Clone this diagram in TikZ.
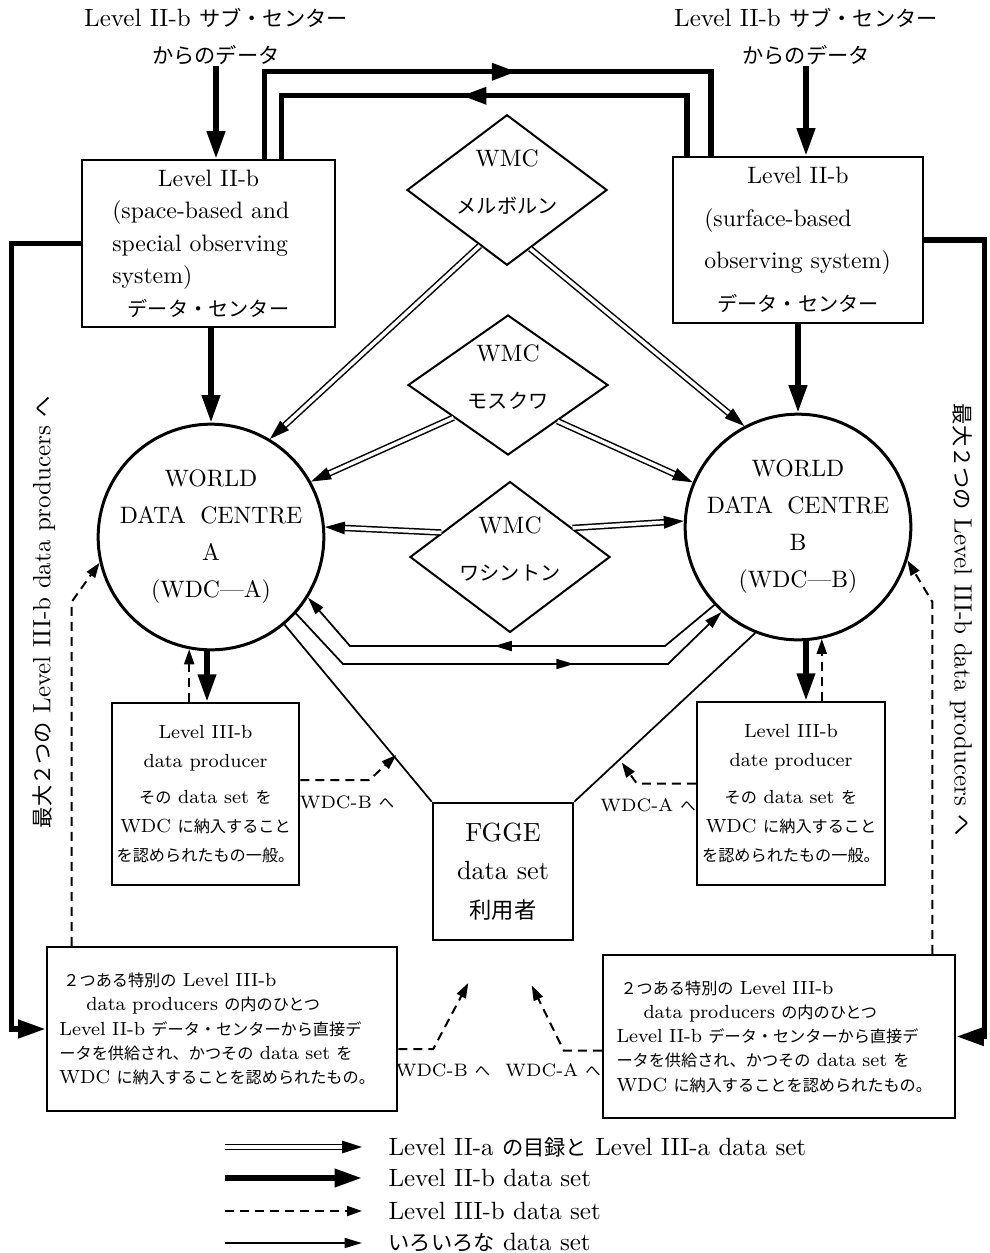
\documentclass[tikz,border=0pt]{standalone}
\usepackage{fontspec}
\usepackage{tikz}
\usetikzlibrary{positioning, arrows.meta, shapes.geometric, calc, decorations.markings}
\newfontfamily\jp[Scale=0.85]{Noto Sans CJK JP}

\begin{document}
\begin{tikzpicture}[
  x=0.4pt, y=-0.4pt,
  box/.style={draw, line width=1pt, inner sep=0pt},
  centre/.style={circle, draw, line width=1.2pt, minimum size=87.6pt, inner sep=0pt,
    align=center, font={\fontsize{9.5pt}{14.8pt}\selectfont}},
  wmc/.style={diamond, draw, line width=0.8pt, minimum width=80pt, minimum height=56pt,
    inner sep=-3pt, text depth=6.5pt, align=center, font={\fontsize{9.5pt}{18.8pt}\selectfont}},
  hdr/.style={align=center, inner sep=0pt, font={\fontsize{10pt}{14.8pt}\selectfont}},
  dest/.style={inner sep=0pt, font={\fontsize{7.2pt}{9pt}\selectfont}},
  legtxt/.style={anchor=west, inner sep=0pt, font={\fontsize{10pt}{12pt}\selectfont}},
  sidetxt/.style={inner sep=0pt, font={\fontsize{10pt}{12pt}\selectfont}},
  twoa/.style={double, double distance=1.4pt, line width=0.6pt, -{Triangle[length=8pt, width=5pt]}},
  twob/.style={line width=2.2pt, -{Triangle[length=11pt, width=7pt]}},
  twobline/.style={line width=2.2pt},
  threeb/.style={line width=0.8pt, dash pattern=on 3.6pt off 2.4pt, -{Triangle[length=6pt, width=4pt]}},
  various/.style={line width=0.7pt, -{Triangle[length=7pt, width=4pt]}},
  midarrow/.style={postaction={decorate}, decoration={markings,
    mark=at position #1 with {\arrow{Triangle[length=7pt, width=4pt]}}}},
  midbold/.style={postaction={decorate}, decoration={markings,
    mark=at position #1 with {\arrow{Triangle[length=10pt, width=6.5pt]}}}},
]
  \useasboundingbox (0,0) rectangle (989,1253);

  % sub-centres on top
  \node[hdr] (subA) at (216,37) {Level II-b {\jp サブ・センター}\\{\jp からのデータ}};
  \node[hdr] (subB) at (806,37) {Level II-b {\jp サブ・センター}\\{\jp からのデータ}};

  % Level II-b data centres
  \node[box, minimum width=101.2pt, minimum height=66.8pt, text width=77pt, align=left,
    font={\fontsize{9.5pt}{13pt}\selectfont}] (lvA) at (208.5,243.5)
    {\makebox[\hsize]{Level II-b}\\(space-based and\\special observing\\system)\\
     \makebox[\hsize]{\jp データ・センター}};
  \node[box, minimum width=100pt, minimum height=66.4pt, text width=75pt, align=left,
    font={\fontsize{9.5pt}{17pt}\selectfont}] (lvB) at (798,240)
    {\makebox[\hsize]{Level II-b}\\(surface-based\\observing system)\\
     \makebox[\hsize]{\jp データ・センター}};

  % world meteorological centres
  \node[wmc] (melb) at (507,190) {WMC\\{\jp メルボルン}};
  \node[wmc] (mosc) at (508,385) {WMC\\{\jp モスクワ}};
  \node[wmc] (wash) at (510,557) {WMC\\{\jp ワシントン}};

  % world data centres
  \node[centre] (wdcA) at (211,537) {WORLD\\DATA\hspace{0.6em}CENTRE\\A\\(WDC---A)};
  \node[centre] (wdcB) at (798,527) {WORLD\\DATA\hspace{0.6em}CENTRE\\B\\(WDC---B)};

  % Level III-b producers
  \node[box, minimum width=74.8pt, minimum height=72.8pt, align=center,
    font={\fontsize{7.6pt}{11.6pt}\selectfont}] (prodA) at (205.5,794)
    {Level III-b\\data producer\\[3pt]{\jp その} data set {\jp を}\\WDC {\jp に納入すること}\\
     {\jp を認められたもの一般。}};
  \node[box, minimum width=75.2pt, minimum height=73.2pt, align=center,
    font={\fontsize{7.6pt}{11.6pt}\selectfont}] (prodB) at (791,793.5)
    {Level III-b\\date producer\\[3pt]{\jp その} data set {\jp を}\\WDC {\jp に納入すること}\\
     {\jp を認められたもの一般。}};

  \node[box, minimum width=56pt, minimum height=54.8pt, align=center,
    font={\fontsize{10.5pt}{15.4pt}\selectfont}] (fgge) at (503,871.5)
    {FGGE\\data set\\{\jp 利用者}};

  % special producers
  \node[box, minimum width=140pt, minimum height=65.6pt, text width=130pt, align=left,
    font={\fontsize{7.6pt}{9.7pt}\selectfont}] (spA) at (222,1029)
    {\hspace*{1.6pt}{\jp ２つある特別の} Level III-b\\
     \hspace*{10.8pt}data producers {\jp の内のひとつ}\\
     Level II-b {\jp データ・センターから直接デ}\\
     {\jp ータを供給され、かつその} data set {\jp を}\\
     WDC {\jp に納入することを認められたもの。}};
  \node[box, minimum width=140.8pt, minimum height=65.2pt, text width=130pt, align=left,
    font={\fontsize{7.6pt}{9.7pt}\selectfont}] (spB) at (779,1036.5)
    {\hspace*{1.6pt}{\jp ２つある特別の} Level III-b\\
     \hspace*{10.8pt}data producers {\jp の内のひとつ}\\
     Level II-b {\jp データ・センターから直接デ}\\
     {\jp ータを供給され、かつその} data set {\jp を}\\
     WDC {\jp に納入することを認められたもの。}};

  \node[sidetxt, rotate=90] (sideA) at (44,612)
    {{\jp 最大２つの} Level III-b data producers {\jp へ}};
  \node[sidetxt, rotate=-90] (sideB) at (961,620)
    {{\jp 最大２つの} Level III-b data producers {\jp へ}};

  \node[dest] (toB1) at (347,802) {WDC-B {\jp へ}};
  \node[dest] (toA1) at (648,805) {WDC-A {\jp へ}};
  \node[dest] (toB2) at (443,1070) {WDC-B {\jp へ}};
  \node[dest] (toA2) at (553,1070) {WDC-A {\jp へ}};

  % Level II-b data
  \draw[twob] (subA.south) -- (subA.south |- lvA.north);
  \draw[twob] (subB.south) -- (subB.south |- lvB.north);
  \draw[twobline, midbold=0.55] ($(lvA.north east)+(-72,0)$) -- ++(0,-87) -| ($(lvB.north west)+(39,0)$);
  \draw[twobline, midbold=0.54] ($(lvB.north west)+(15,0)$) -- ++(0,-60) -| ($(lvA.north east)+(-55,0)$);
  \draw[twob] (wdcA.north |- lvA.south) -- (wdcA.north);
  \draw[twob] (wdcB.north |- lvB.south) -- (wdcB.north);
  \draw[twob] (lvA.west) -- ++(-69,0) |- (spA.west);
  \draw[twob] (lvB.east) -- ++(60,0) |- (spB.east);
  \draw[twob] (wdcA.-92) -- (wdcA.-92 |- prodA.north);
  \draw[twob] (wdcB.-86) -- (wdcB.-86 |- prodB.north);

  % Level II-a catalogues
  \draw[twoa] ($(melb.south)!.27!(melb.west)$) -- (wdcA.59);
  \draw[twoa] ($(melb.south)!.23!(melb.east)$) -- (wdcB.118);
  \draw[twoa] ($(mosc.south)!.54!(mosc.west)$) -- (wdcA.29);
  \draw[twoa] ($(mosc.south)!.49!(mosc.east)$) -- (wdcB.157);
  \draw[twoa] ($(wash.north)!.68!(wash.west)$) -- (wdcA.5);
  \draw[twoa] ($(wash.north)!.62!(wash.east)$) -- (wdcB.177);

  % exchange between the centres
  \draw[various, midarrow=0.53] (wdcB.-137) -- (665,646) -- (350,646) -- (wdcA.-32);
  \draw[various, midarrow=0.64] (wdcA.-42) -- (343,664) -- (668,664) -- (wdcB.-132);
  \draw[line width=0.7pt] (wdcA.-50) -- (fgge.north west);
  \draw[line width=0.7pt] (wdcB.-112) -- (fgge.north east);

  % Level III-b data
  \draw[threeb] (wdcA.-101 |- prodA.north) -- (wdcA.-101);
  \draw[threeb] (wdcB.-78 |- prodB.north) -- (wdcB.-78);
  \draw[threeb] ($(spA.north west)+(26,0)$) -- ++(0,-344) -- (wdcA.193);
  \draw[threeb] ($(spB.north east)+(-24,0)$) -- ++(0,-352) -- (wdcB.-17);
  \draw[threeb] ($(prodA.east)+(0,-14)$) -- ++(69,0) -- ++(27,-25);
  \draw[threeb] ($(prodB.west)+(0,-10)$) -- ++(-59,0) -- ++(-15,-21);
  \draw[threeb] ($(spA.east)+(0,20)$) -- ++(35,0) -- ++(35,-66);
  \draw[threeb] ($(spB.west)+(0,14)$) -- ++(-38,0) -- ++(-32,-65);

  % legend
  \node[legtxt] (legA) at (388,1147) {Level II-a {\jp の目録と} Level III-a data set};
  \node[legtxt] (legB) at (388,1178) {Level II-b data set};
  \node[legtxt] (legC) at (388,1211) {Level III-b data set};
  \node[legtxt] (legD) at (388,1243) {{\jp いろいろな} data set};
  \draw[twoa] ($(legA.west)+(-163,0)$) -- ($(legA.west)+(-26,0)$);
  \draw[twob] ($(legB.west)+(-163,0)$) -- ($(legB.west)+(-26,0)$);
  \draw[threeb] ($(legC.west)+(-163,0)$) -- ($(legC.west)+(-26,0)$);
  \draw[various] ($(legD.west)+(-163,0)$) -- ($(legD.west)+(-26,0)$);
\end{tikzpicture}
\end{document}
